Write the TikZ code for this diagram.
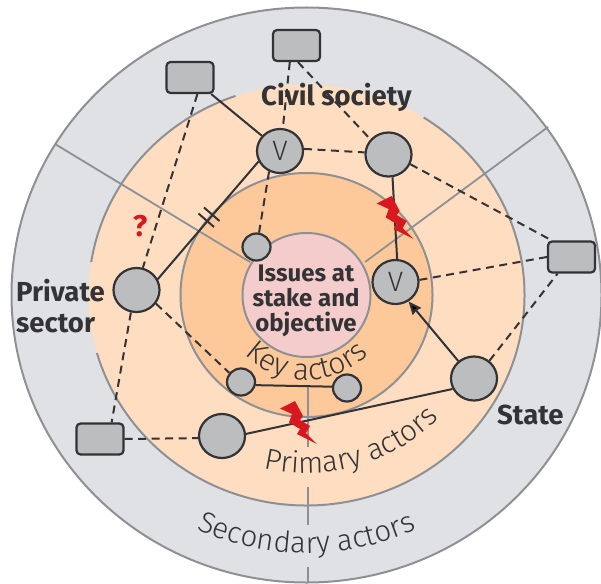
\documentclass[tikz,border=0pt]{standalone}
\usepackage{fontspec}
\setmainfont{Fira Sans}
\newfontfamily\thinface{Fira Sans Light}
\usetikzlibrary{decorations.text,arrows.meta,shapes.geometric}
\definecolor{outerc}{HTML}{DFE1E4}
\definecolor{ringc}{HTML}{8E9093}
\definecolor{midc}{HTML}{FEDDC0}
\definecolor{keyc}{HTML}{FDC99A}
\definecolor{corec}{HTML}{F4CCCC}
\definecolor{nodec}{HTML}{BBBDBF}
\definecolor{inkc}{HTML}{333335}
\definecolor{boltc}{HTML}{D7191F}
\tikzset{
  ring/.style={draw=ringc,line width=2pt},
  spoke/.style={draw=ringc,line width=1.8pt},
  actor/.style={draw=inkc,line width=2.2pt,fill=nodec,ellipse,inner sep=0pt,minimum width=46pt,minimum height=44pt,font=\thinface\fontsize{28}{28}\selectfont,text=inkc},
  smallactor/.style={actor,minimum width=28pt,minimum height=27pt},
  outside/.style={draw=inkc,line width=2.2pt,fill=nodec,rounded corners=4pt,inner sep=0pt,minimum width=47pt,minimum height=31pt},
  solidlink/.style={draw=inkc,line width=2pt},
  dashlink/.style={draw=inkc,line width=2pt,dash pattern=on 8pt off 5.5pt},
  heading/.style={font=\fontsize{27.5}{31}\selectfont\bfseries,text=inkc,inner sep=0pt,align=left},
  curved/.style={decorate,decoration={text along path,text align=center,text color=inkc}},
}
\newcommand{\boltshape}{(280,-408.5)--(295,-401)--(303,-416)--(300,-420)--(310,-426)--(306,-433)--(317,-444)--(297,-434)--(300,-429)--(289,-422.5)--(292,-414)--cycle}
\begin{document}
\begin{tikzpicture}[x=1pt,y=1pt]
\useasboundingbox (0,0) rectangle (601,-583);
\coordinate (c) at (306.5,-295);
% discs
\fill[outerc] (c) ellipse[x radius=295,y radius=287.5];
\draw[ring] (c) ellipse[x radius=295,y radius=287.5];
\fill[midc] (c) ellipse[x radius=218,y radius=210.5];
\draw[ring] (c) ++(57.5:218 and 210.5) arc[start angle=57.5,end angle=-164,x radius=218,y radius=210.5];
\draw[ring] (c) ++(109:218 and 210.5) arc[start angle=109,end angle=171,x radius=218,y radius=210.5];
% spokes
\coordinate (s1a) at (55,-144); \coordinate (s1b) at (250,-262);
\coordinate (s2a) at (548,-127); \coordinate (s2b) at (365,-262);
\coordinate (s3a) at (308,-385); \coordinate (s3b) at (308,-447);
\coordinate (s4a) at (308,-487); \coordinate (s4b) at (308,-525);
\coordinate (s5a) at (308,-567); \coordinate (s5b) at (308,-583);
\fill[keyc] (c) ellipse[x radius=126,y radius=122];
\draw[ring] (c) ellipse[x radius=126,y radius=122];
\draw[spoke] (s1a)--(s1b);
\draw[spoke] (s2a)--(s2b);
\draw[spoke] (s3a)--(s3b);
\draw[spoke] (s4a)--(s4b);
\draw[spoke] (s5a)--(s5b);
\fill[corec] (c) ellipse[x radius=64,y radius=62];
\draw[ring] (c) ellipse[x radius=64,y radius=62];
% curved labels
\path[curved,decoration={text={|\thinface\fontsize{30}{30}\selectfont|Key actors}}] (c) ++(190:87 and 85) arc[start angle=190,end angle=350,x radius=87,y radius=85];
\path[curved,decoration={text={|\thinface\fontsize{29.5}{29.5}\selectfont|Primary actors}}] (c) ++(229:183 and 178) arc[start angle=229,end angle=344,x radius=183,y radius=178];
\path[curved,decoration={text={|\thinface\fontsize{29.5}{29.5}\selectfont|Secondary actors}}] (c) ++(225:265 and 258) arc[start angle=225,end angle=315,x radius=265,y radius=258];
% actors
\node[actor] (v1) at (280,-151) {V};
\node[actor] (cs) at (388.5,-154.5) {};
\node[smallactor] (k1) at (256.5,-247) {};
\node[actor] (v2) at (395.5,-282) {V};
\node[actor] (st) at (474,-378.5) {};
\node[actor] (pr) at (136.5,-290) {};
\node[actor] (pa) at (222,-436) {};
\node[smallactor] (k2) at (241,-382) {};
\node[smallactor] (k3) at (347,-388) {};
\node[outside] (r1) at (296.5,-45.5) {};
\node[outside] (r2) at (190,-77.5) {};
\node[outside] (r3) at (571.5,-257) {};
\node[outside] (r4) at (100,-439) {};
% connectors
\draw[solidlink] (r2.-38) -- (v1.140);
\draw[dashlink] (r2.-66) -- (pr.74);
\draw[dashlink] (r1.-112) -- (v1.83);
\draw[dashlink] (r1.-85) -- (cs.140);
\draw[dashlink] (v1.5) -- (cs.175);
\draw[dashlink] (v1.-118) -- (k1.80);
\draw[solidlink] (v1.206) -- (pr.27);
\draw[solidlink] (cs.-80) -- (v2.86);
\draw[dashlink] (cs.-24) -- (r3.140);
\draw[dashlink] (v2.5) -- (r3.west);
\draw[dashlink] (st.49) -- (r3.-130);
\draw[solidlink,-{Stealth[length=13pt,width=11pt,inset=1pt]}] (st.132) -- (v2.-56);
\draw[solidlink] (st.206) -- (pa.5);
\draw[dashlink] (pr.-35) -- (k2.142);
\draw[dashlink] (pr.-104) -- (r4.55);
\draw[dashlink] (r4.east) -- (pa.185);
\draw[solidlink] (k2.-12) -- (k3.175);
% ticks on the cut link
\coordinate (t1a) at (198.5,-213.5); \coordinate (t1b) at (214,-227);
\coordinate (t2a) at (204,-207.5); \coordinate (t2b) at (219.5,-221);
\draw[solidlink] (t1a)--(t1b);
\draw[solidlink] (t2a)--(t2b);
% bolts
\fill[boltc] \boltshape;
\fill[boltc,shift={(96.7,205)}] \boltshape;
% labels
\node[heading,anchor=base west] (civ) at (261,-106) {Civil society};
\node[heading,anchor=base west] (prv) at (16,-332) {Private\\sector};
\node[heading,anchor=base west] (sta) at (497,-424) {State};
\node[heading,font=\fontsize{30}{30}\selectfont\bfseries,text=boltc] (qm) at (140,-226) {?};
\node[heading,font=\fontsize{24}{25}\selectfont\bfseries,align=center,anchor=center] (iss) at (306,-300.5) {Issues at\\stake and\\objective};
\end{tikzpicture}
\end{document}
